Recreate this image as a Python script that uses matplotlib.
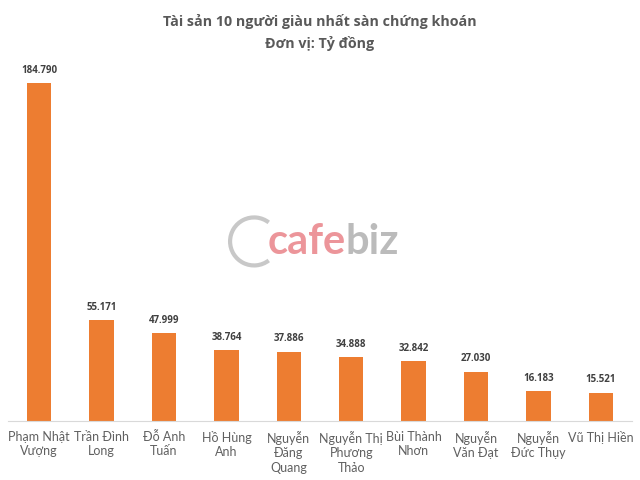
import matplotlib.pyplot as plt
import numpy as np
from matplotlib.patches import Arc

names = ["Phạm Nhật\nVượng", "Trần Đình\nLong", "Đỗ Anh\nTuấn", "Hồ Hùng\nAnh",
         "Nguyễn\nĐăng\nQuang", "Nguyễn Thị\nPhương\nThảo", "Bùi Thành\nNhơn",
         "Nguyễn\nVăn Đạt", "Nguyễn\nĐức Thụy", "Vũ Thị Hiền"]
values = [184.790, 55.171, 47.999, 38.764, 37.886, 34.888, 32.842, 27.030, 16.183, 15.521]
value_labels = ["184.790", "55.171", "47.999", "38.764", "37.886",
                "34.888", "32.842", "27.030", "16.183", "15.521"]

plt.rcParams['font.family'] = ['Lato', 'DejaVu Sans']

fig = plt.figure(figsize=(6.4, 4.8), dpi=100)
ax = fig.add_axes([0.0125, 0.123, 0.975, 0.762])

x = np.arange(len(values))
ax.bar(x, values, width=0.39, color='#ED7D31', zorder=2)
for xi, v, lab in zip(x, values, value_labels):
    ax.text(xi, v + 4, lab, ha='center', va='bottom', fontsize=7,
            fontweight='bold', color='#404040', family=['Open Sans', 'DejaVu Sans'])

ax.set_xlim(-0.5, len(values) - 0.5)
ax.set_ylim(0, 200)
ax.set_xticks(x)
ax.set_xticklabels(names, fontsize=9, color='#606060', linespacing=1.25)
ax.tick_params(axis='x', length=0, pad=7)
ax.set_yticks([])
for s in ['top', 'right', 'left']:
    ax.spines[s].set_visible(False)
ax.spines['bottom'].set_color('#D9D9D9')

fig.text(0.5, 0.97, "Tài sản 10 người giàu nhất sàn chứng khoán\nĐơn vị: Tỷ đồng",
         ha='center', va='top', fontsize=10.3, fontweight='bold', color='#595959',
         linespacing=1.55, family=['Open Sans', 'DejaVu Sans'])

# watermark
fig.text(0.54, 0.495, "cafe", ha='right', va='center', fontsize=30,
         fontweight='bold', color='#EA8A8F', alpha=0.9)
fig.text(0.54, 0.495, "biz", ha='left', va='center', fontsize=30,
         fontweight='bold', color='#B4B4B4', alpha=0.9)
fig.add_artist(Arc((0.397, 0.497), 0.075, 0.1, theta1=60, theta2=300,
                   transform=fig.transFigure, color='#C8C8C8', lw=3))

fig.savefig('out.png', dpi=100)
